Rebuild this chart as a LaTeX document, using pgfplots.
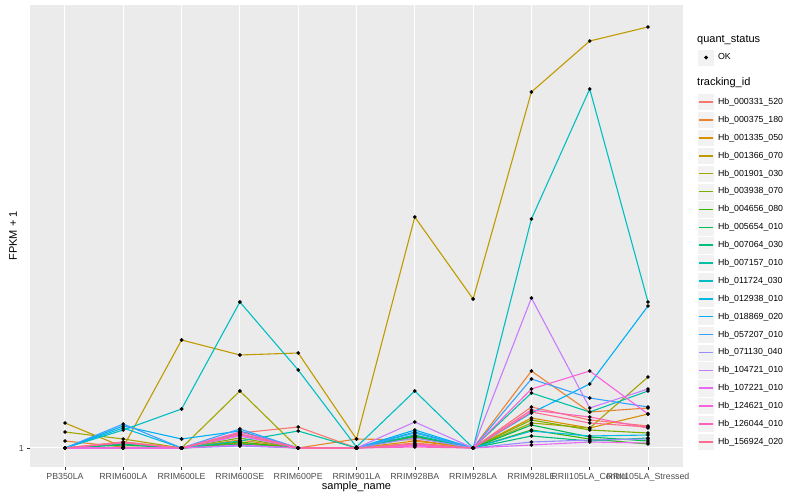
\documentclass[border=0pt]{standalone}
\usepackage{fontspec}
\setmainfont{Liberation Sans}
\usepackage{pgfplots}
\usepackage{pgfplotstable}
\pgfplotsset{compat=1.18}

\definecolor{ggpanel}{HTML}{EBEBEB}
\definecolor{ggkey}{HTML}{F2F2F2}
\definecolor{gg30}{HTML}{4D4D4D}
\definecolor{gg20}{HTML}{333333}
\definecolor{c1}{HTML}{F8766D}
\definecolor{c2}{HTML}{EA8331}
\definecolor{c3}{HTML}{D89000}
\definecolor{c4}{HTML}{C09B00}
\definecolor{c5}{HTML}{A3A500}
\definecolor{c6}{HTML}{7CAE00}
\definecolor{c7}{HTML}{39B600}
\definecolor{c8}{HTML}{00BB4E}
\definecolor{c9}{HTML}{00BF7D}
\definecolor{c10}{HTML}{00C1A3}
\definecolor{c11}{HTML}{00BFC4}
\definecolor{c12}{HTML}{00BAE0}
\definecolor{c13}{HTML}{00B0F6}
\definecolor{c14}{HTML}{35A2FF}
\definecolor{c15}{HTML}{9590FF}
\definecolor{c16}{HTML}{C77CFF}
\definecolor{c17}{HTML}{E76BF3}
\definecolor{c18}{HTML}{FA62DB}
\definecolor{c19}{HTML}{FF62BC}
\definecolor{c20}{HTML}{FF6C91}

% FPKM + 1 per sample (x = sample index), one column per tracking id
\pgfplotstableread{
x  s1  s2  s3  s4  s5  s6  s7  s8  s9  s10 s11 s12 s13 s14 s15 s16 s17 s18 s19 s20
0  0   7   0   25  16  0   0   0   0   0   0   0   0   0   0   0   0   0   0   0
1  6   1   0   1   9   0   0   3   4   0   18  20  22  24  0   0   0   0   5   6
2  0   0   0   108 0   0   0   0   0   0   39  0   9   0   0   0   0   0   0   0
3  15  8   5   93  57  10  6   4   3   7   146 14  17  19  2   12  3   13  16  14
4  21  0   0   95  0   0   0   0   0   17  78  0   0   0   0   0   0   0   0   0
5  0   9   0   9   0   0   0   0   0   0   1   0   0   0   0   0   0   0   0   0
6  5   8   7   231 12  11  12  12  3   13  57  16  18  15  10  26  2   3   1   4
7  0   0   0   149 0   0   0   0   0   0   0   0   0   0   0   0   0   0   0   0
8  41  77  30  356 25  28  18  23  12  55  229 17  35  69  6   150 3   59  38  36
9  28  36  20  407 20  18  9   11  7   36  359 12  64  50  8   40  6   77  31  25
10 22  40  34  421 71  15  4   7   10  57  146 13  142 41  9   59  5   34  20  21
}\fpkm

\begin{document}
\begin{tikzpicture}
\begin{axis}[
    at={(0pt,0pt)}, anchor=south west,
    scale only axis, width=653pt, height=462pt,
    xmin=-0.6, xmax=10.6, ymin=-19, ymax=443,
    xtick={0,1,2,3,4,5,6,7,8,9,10},
    xticklabels={PB350LA, RRIM600LA, RRIM600LE, RRIM600SE, RRIM600PE,
      RRIM901LA, RRIM928BA, RRIM928LA, RRIM928LE,
      RRII105LA\_Control, RRII105LA\_Stressed},
    ytick={0}, yticklabels={1},
    tick pos=left, tick align=outside, major tick length=2.75pt,
    every tick/.append style={gg20, line width=0.5pt},
    axis line style={draw=none},
    axis background/.style={fill=ggpanel},
    grid=major, major grid style={white, line width=1pt},
    ticklabel style={font=\fontsize{8.8}{10}\selectfont, text=gg30},
    xlabel={sample\_name},
    xlabel style={at={(axis description cs:0.5,0)}, anchor=center,
      yshift=-20pt, font=\fontsize{11}{13}\selectfont},
    ylabel={FPKM + 1},
    ylabel style={at={(axis description cs:-0.026,0.5)}, anchor=center,
      font=\fontsize{11}{13}\selectfont},
    every axis plot/.append style={line width=1.1pt, mark=*, mark size=1.7pt,
      mark options={fill=black, draw=black, solid, line width=0.3pt}},
    legend style={at={(axis description cs:1.0214,0.8095)}, anchor=north west,
      draw=none, fill=none, inner sep=0pt, row sep=0pt,
      nodes={inner sep=0pt, font=\fontsize{8.8}{10}\selectfont},
      /tikz/every odd column/.style={column sep=3pt}},
    legend cell align=left,
    legend image code/.code={
      \filldraw[fill=ggkey, draw=white, line width=0.6pt] (0pt,-8.64pt) rectangle (17.28pt,8.64pt);
      \draw[mark=none, line width=1.5pt] (1.7pt,0pt) -- (15.6pt,0pt);
    },
  ]
  \addplot[c1]  table[x=x, y=s1]  {\fpkm};
  \addplot[c2]  table[x=x, y=s2]  {\fpkm};
  \addplot[c3]  table[x=x, y=s3]  {\fpkm};
  \addplot[c4]  table[x=x, y=s4]  {\fpkm};
  \addplot[c5]  table[x=x, y=s5]  {\fpkm};
  \addplot[c6]  table[x=x, y=s6]  {\fpkm};
  \addplot[c7]  table[x=x, y=s7]  {\fpkm};
  \addplot[c8]  table[x=x, y=s8]  {\fpkm};
  \addplot[c9]  table[x=x, y=s9]  {\fpkm};
  \addplot[c10] table[x=x, y=s10] {\fpkm};
  \addplot[c11] table[x=x, y=s11] {\fpkm};
  \addplot[c12] table[x=x, y=s12] {\fpkm};
  \addplot[c13] table[x=x, y=s13] {\fpkm};
  \addplot[c14] table[x=x, y=s14] {\fpkm};
  \addplot[c15] table[x=x, y=s15] {\fpkm};
  \addplot[c16] table[x=x, y=s16] {\fpkm};
  \addplot[c17] table[x=x, y=s17] {\fpkm};
  \addplot[c18] table[x=x, y=s18] {\fpkm};
  \addplot[c19] table[x=x, y=s19] {\fpkm};
  \addplot[c20] table[x=x, y=s20] {\fpkm};
  \legend{Hb\_000331\_520, Hb\_000375\_180, Hb\_001335\_050, Hb\_001366\_070,
    Hb\_001901\_030, Hb\_003938\_070, Hb\_004656\_080, Hb\_005654\_010,
    Hb\_007064\_030, Hb\_007157\_010, Hb\_011724\_030, Hb\_012938\_010,
    Hb\_018869\_020, Hb\_057207\_010, Hb\_071130\_040, Hb\_104721\_010,
    Hb\_107221\_010, Hb\_124621\_010, Hb\_126044\_010, Hb\_156924\_020}
\end{axis}

% quant_status legend
\begin{axis}[
    at={(0pt,0pt)}, anchor=south west,
    scale only axis, width=653pt, height=462pt,
    hide axis, xmin=0, xmax=1, ymin=0, ymax=1,
    legend style={at={(axis description cs:1.0214,0.906)}, anchor=north west,
      draw=none, fill=none, inner sep=0pt, row sep=0pt,
      nodes={inner sep=0pt, font=\fontsize{8.8}{10}\selectfont},
      /tikz/every odd column/.style={column sep=3pt}},
    legend cell align=left,
    legend image code/.code={
      \filldraw[fill=ggkey, draw=white, line width=0.6pt] (0pt,-8.64pt) rectangle (17.28pt,8.64pt);
      \draw plot coordinates {(8.64pt,0pt)};
    },
  ]
  \addplot[draw=none, mark=none, forget plot] coordinates {(0,0) (1,1)};
  \addlegendimage{only marks, mark=*, mark size=1.7pt, black}
  \addlegendentry{OK}
\end{axis}

\node[anchor=west, inner sep=0pt, font=\fontsize{11}{13}\selectfont] at (667pt,427pt) {quant\_status};
\node[anchor=west, inner sep=0pt, font=\fontsize{11}{13}\selectfont] at (667pt,384pt) {tracking\_id};
\path[use as bounding box] (-30pt,-33pt) rectangle (770pt,467pt);
\end{tikzpicture}
\end{document}
